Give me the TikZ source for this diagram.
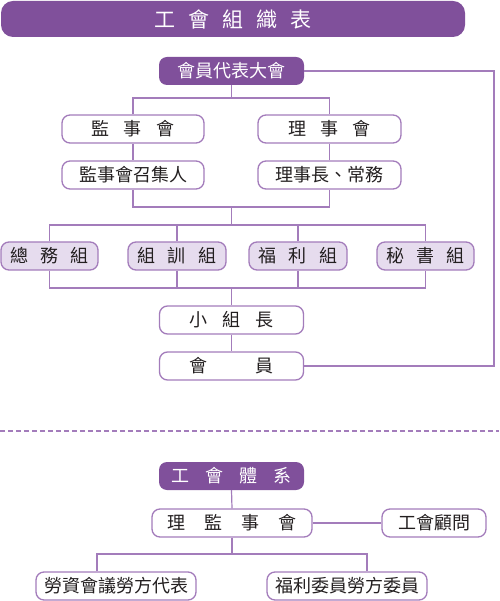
\documentclass[tikz,border=0pt]{standalone}
\usepackage{fontspec}
\setmainfont{Noto Sans CJK TC}
\definecolor{ucPurple}{HTML}{80509B}
\definecolor{ucLine}{HTML}{A37CBB}
\definecolor{ucLight}{HTML}{E6DCEE}
\definecolor{ucText}{HTML}{231F20}
\begin{document}
\begin{tikzpicture}[x=1pt,y=-1pt]

% --- Stijldefinities ---
\tikzset{
    titleBar/.style={
        fill=ucPurple,
        rounded corners=12pt,
        text=white,
        minimum width=464pt,
        minimum height=36pt,
        font=\fontsize{21}{25}\selectfont
    },
    headBox/.style={
        fill=ucPurple,
        rounded corners=8pt,
        text=white,
        minimum width=145pt,
        minimum height=28pt,
        inner sep=0pt,
        font=\fontsize{18}{22}\selectfont
    },
    plainBox/.style={
        draw=ucLine,
        fill=white,
        line width=1.3pt,
        rounded corners=8pt,
        text=ucText,
        minimum height=28pt,
        inner sep=0pt,
        font=\fontsize{18}{22}\selectfont
    },
    groupBox/.style={
        plainBox,
        fill=ucLight,
        minimum width=97pt
    },
    linkLine/.style={
        draw=ucLine,
        line width=1.2pt
    },
    dashLine/.style={
        draw=ucLine,
        line width=1.2pt,
        dash pattern=on 5pt off 3pt
    }
}

\useasboundingbox (0,0) rectangle (499,601);

% =========================================================
% Bovenste deel: organisatie
% =========================================================

\node[titleBar] (title) at (233,19) {工\hspace{0.62em}會\hspace{0.62em}組\hspace{0.62em}織\hspace{0.62em}表};

\node[headBox] (rep) at (231.5,71) {會員代表大會};

\node[plainBox, minimum width=142pt] (sup) at (133,129) {監\hspace{0.78em}事\hspace{0.78em}會};
\node[plainBox, minimum width=143pt] (dir) at (329.5,129) {理\hspace{0.78em}事\hspace{0.78em}會};
\node[plainBox, minimum width=142pt] (supHead) at (133,175) {監事會召集人};
\node[plainBox, minimum width=143pt] (dirHead) at (329.5,175) {理事長、常務};

% Groepen
\node[groupBox] (gGen) at (49.5,256) {總\hspace{0.67em}務\hspace{0.67em}組};
\node[groupBox, minimum width=98pt] (gTrain) at (177,256) {組\hspace{0.67em}訓\hspace{0.67em}組};
\node[groupBox, minimum width=98pt] (gWel) at (298,256) {福\hspace{0.67em}利\hspace{0.67em}組};
\node[groupBox] (gSec) at (425.5,256) {秘\hspace{0.67em}書\hspace{0.67em}組};

\node[plainBox, minimum width=144pt] (leader) at (231.5,320) {小\hspace{0.83em}組\hspace{0.83em}長};
\node[plainBox, minimum width=144pt] (member) at (231.5,366) {會\hspace{2.67em}員};

% Verbindingen
\coordinate (busA) at (231.5,98);
\coordinate (busB) at (231.5,207);
\coordinate (busC) at (231.5,225);
\coordinate (busD) at (231.5,288);
\coordinate (loopTop) at (494,71);

\draw[linkLine] (rep.south) -- (busA);
\draw[linkLine] (sup.north) |- (busA) -| (dir.north);
\draw[linkLine] (sup.south) -- (supHead.north);
\draw[linkLine] (dir.south) -- (dirHead.north);
\draw[linkLine] (supHead.south) |- (busB) -| (dirHead.south);
\draw[linkLine] (busB) -- (busC);
\draw[linkLine] (gGen.north) |- (busC) -| (gSec.north);
\draw[linkLine] (gTrain.north) -- (gTrain.north |- busC);
\draw[linkLine] (gWel.north) -- (gWel.north |- busC);
\draw[linkLine] (gGen.south) |- (busD) -| (gSec.south);
\draw[linkLine] (gTrain.south) -- (gTrain.south |- busD);
\draw[linkLine] (gWel.south) -- (gWel.south |- busD);
\draw[linkLine] (busD) -- (leader.north);
\draw[linkLine] (leader.south) -- (member.north);
\draw[linkLine] (rep.east) -- (loopTop) |- (member.east);

% Scheidingslijn
\draw[dashLine] (0,431) -- (499,431);

% =========================================================
% Onderste deel: systeem
% =========================================================

\node[headBox] (sys) at (231.5,476) {工\hspace{0.9em}會\hspace{0.9em}體\hspace{0.9em}系};
\node[plainBox, minimum width=160pt] (board) at (232,523) {理\hspace{1.05em}監\hspace{1.05em}事\hspace{1.05em}會};
\node[plainBox, minimum width=104pt] (advisor) at (434,523) {工會顧問};
\node[plainBox, minimum width=160pt] (labour) at (116,586) {勞資會議勞方代表};
\node[plainBox, minimum width=160pt] (welfare) at (347,586) {福利委員勞方委員};

\coordinate (busE) at (232,554);

\draw[linkLine] (sys.south) -- (board.north);
\draw[linkLine] (board.east) -- (advisor.west);
\draw[linkLine] (board.south) -- (busE);
\draw[linkLine] ([xshift=-19pt]labour.north) |- (busE) -| ([xshift=20pt]welfare.north);

\end{tikzpicture}
\end{document}
